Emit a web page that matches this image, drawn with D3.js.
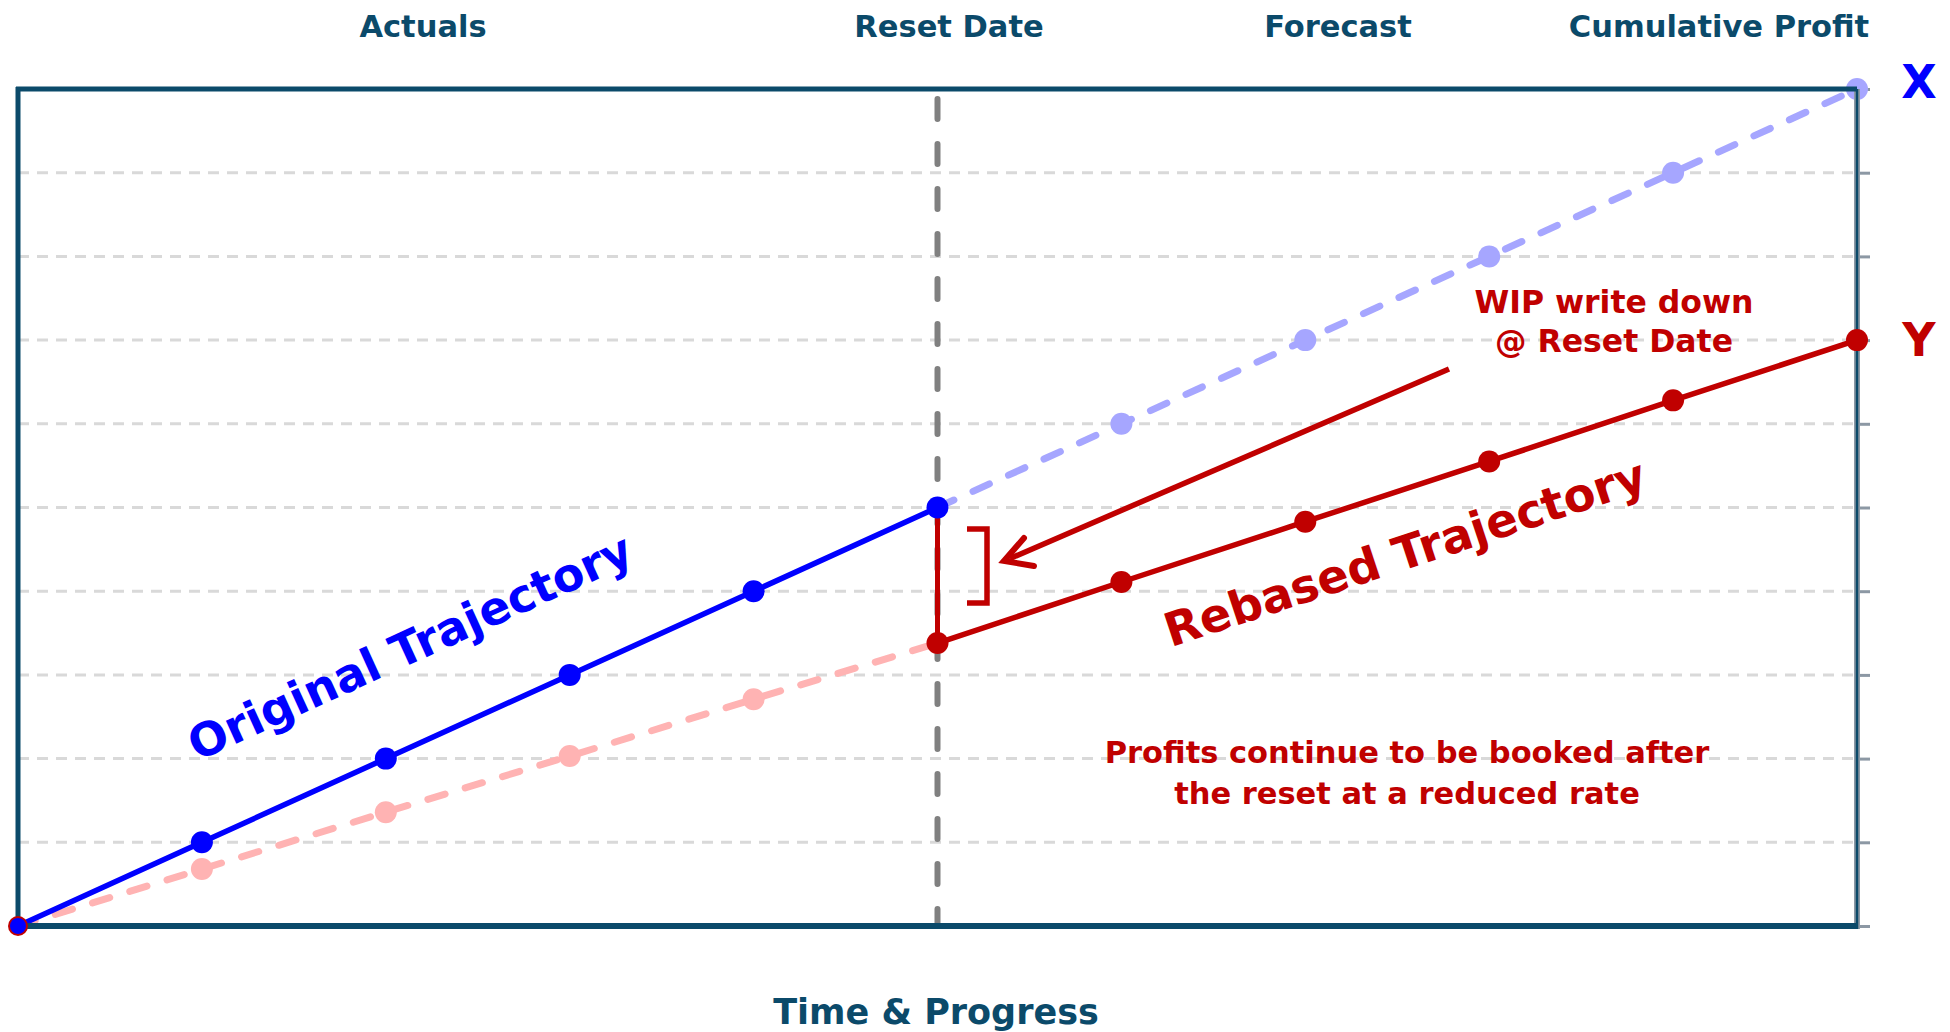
<!DOCTYPE html>
<html>
<head>
<meta charset="utf-8">
<script src="https://cdn.jsdelivr.net/npm/d3@7/dist/d3.min.js"></script>
<style>
  html, body { margin: 0; padding: 0; background: #fff; }
  svg { display: block; }
  text { font-family: "DejaVu Sans", Verdana, sans-serif; font-weight: bold; }
</style>
</head>
<body>
<svg id="chart" width="1950" height="1032"></svg>
<script>
// ---- data ----
const periods = [0, 1, 2, 3, 4, 5, 6, 7, 8, 9, 10];
const resetPeriod = 5;
const originalActual = [0, 1, 2, 3, 4, 5];           // periods 0..5
const originalForecast = [5, 6, 7, 8, 9, 10];        // periods 5..10
const rebasedActual = [0, 0.68, 1.36, 2.03, 2.71, 3.38]; // periods 0..5
const rebasedForecast = [3.38, 4.11, 4.83, 5.55, 6.28, 7.0]; // periods 5..10
const gridValues = [0, 1, 2, 3, 4, 5, 6, 7, 8, 9, 10];
const headerLabels = ["Actuals", "Reset Date", "Forecast", "Cumulative Profit"];
const endLabels = ["X", "Y"];
const wipLines = ["WIP write down", "@ Reset Date"];
const profitLines = ["Profits continue to be booked after", "the reset at a reduced rate"];
const axisTitle = "Time & Progress";
const trajectoryLabels = ["Original Trajectory", "Rebased Trajectory"];

// ---- layout ----
const svg = d3.select("#chart");
const L = 18, R = 1857, T = 89, B = 926;
const x = d3.scaleLinear().domain([0, 10]).range([L, R]);
const y = d3.scaleLinear().domain([0, 10]).range([B, T]);

const navy = "#0b4a6a", blue = "#0000ff", red = "#c00000";
const lightBlue = "#a6a6ff", pink = "#ffb3b3";
const PR = 11;

// gridlines
svg.append("g").selectAll("line").data(gridValues.slice(1, 10)).join("line")
  .attr("x1", L).attr("x2", R)
  .attr("y1", d => y(d)).attr("y2", d => y(d))
  .attr("stroke", "#d9d9d9").attr("stroke-width", 3).attr("stroke-dasharray", "11,8");

// right axis ticks
const rAxis = svg.append("g").attr("transform", `translate(${R},0)`)
  .call(d3.axisRight(y).tickValues(gridValues).tickSize(13).tickFormat(""));
rAxis.select(".domain").remove();
rAxis.selectAll(".tick line").attr("stroke", "#8c98a4").attr("stroke-width", 3);

// reset date vertical dashed line
svg.append("line")
  .attr("x1", x(resetPeriod)).attr("x2", x(resetPeriod))
  .attr("y1", T + 10).attr("y2", B)
  .attr("stroke", "#808080").attr("stroke-width", 6)
  .attr("stroke-linecap", "round").attr("stroke-dasharray", "20,25");

const line = d3.line().x(d => x(d[0])).y(d => y(d[1]));
const seg = (vals, start) => vals.map((v, i) => [periods[start + i], v]);

// projections (dashed)
svg.append("path").datum(seg(originalForecast, resetPeriod)).attr("d", line)
  .attr("fill", "none").attr("stroke", lightBlue).attr("stroke-width", 7)
  .attr("stroke-dasharray", "18,21").attr("stroke-linecap", "round");
svg.append("path").datum(seg(rebasedActual, 0)).attr("d", line)
  .attr("fill", "none").attr("stroke", pink).attr("stroke-width", 7)
  .attr("stroke-dasharray", "18,21").attr("stroke-linecap", "round");

// projection points
svg.append("g").selectAll("circle").data(seg(originalForecast, resetPeriod).slice(1)).join("circle")
  .attr("cx", d => x(d[0])).attr("cy", d => y(d[1])).attr("r", PR).attr("fill", lightBlue);
svg.append("g").selectAll("circle").data(seg(rebasedActual, 0).slice(1, 5)).join("circle")
  .attr("cx", d => x(d[0])).attr("cy", d => y(d[1])).attr("r", PR).attr("fill", pink);

// write-down vertical
svg.append("line")
  .attr("x1", x(resetPeriod)).attr("x2", x(resetPeriod))
  .attr("y1", y(originalActual[resetPeriod])).attr("y2", y(rebasedForecast[0]))
  .attr("stroke", red).attr("stroke-width", 5);

// solid lines
svg.append("path").datum(seg(originalActual, 0)).attr("d", line)
  .attr("fill", "none").attr("stroke", blue).attr("stroke-width", 5.5);
svg.append("path").datum(seg(rebasedForecast, resetPeriod)).attr("d", line)
  .attr("fill", "none").attr("stroke", red).attr("stroke-width", 5.5);

// borders
svg.append("line").attr("x1", R).attr("x2", R).attr("y1", T).attr("y2", B + 3)
  .attr("stroke", "#8c98a4").attr("stroke-width", 6);
svg.append("line").attr("x1", R).attr("x2", R).attr("y1", T).attr("y2", B + 3)
  .attr("stroke", navy).attr("stroke-width", 2.5);
svg.append("line").attr("x1", L - 2).attr("x2", R).attr("y1", T).attr("y2", T)
  .attr("stroke", navy).attr("stroke-width", 5);
svg.append("line").attr("x1", L).attr("x2", L).attr("y1", T - 2).attr("y2", B)
  .attr("stroke", navy).attr("stroke-width", 5);
svg.append("line").attr("x1", L).attr("x2", R).attr("y1", B).attr("y2", B)
  .attr("stroke", navy).attr("stroke-width", 6);

// main points
svg.append("g").selectAll("circle").data(seg(rebasedForecast, resetPeriod)).join("circle")
  .attr("cx", d => x(d[0])).attr("cy", d => y(d[1])).attr("r", PR).attr("fill", red);
svg.append("circle").attr("cx", x(0)).attr("cy", y(0)).attr("r", 10).attr("fill", red);
svg.append("g").selectAll("circle").data(seg(originalActual, 0)).join("circle")
  .attr("cx", d => x(d[0])).attr("cy", d => y(d[1]))
  .attr("r", (d, i) => i === 0 ? 8 : PR).attr("fill", blue);

// bracket
svg.append("path").attr("d", "M967,529 H987 V603 H967")
  .attr("fill", "none").attr("stroke", red).attr("stroke-width", 5.5);

// arrow
const a0 = [1449, 369], a1 = [1004, 561];
svg.append("line").attr("x1", a0[0]).attr("y1", a0[1]).attr("x2", a1[0] + 6).attr("y2", a1[1] - 2.5)
  .attr("stroke", red).attr("stroke-width", 5.5);
svg.append("path").attr("d", `M1024,538 L${a1[0]},${a1[1]} L1034,566`)
  .attr("fill", "none").attr("stroke", red).attr("stroke-width", 6)
  .attr("stroke-linejoin", "miter").attr("stroke-linecap", "round");

// header labels
const headerX = [423, 949, 1338, 1719];
svg.append("g").selectAll("text").data(headerLabels).join("text")
  .attr("x", (d, i) => headerX[i]).attr("y", 37)
  .attr("text-anchor", "middle").attr("font-size", 30.5).attr("fill", navy)
  .text(d => d);

// X / Y end labels
svg.append("text").attr("x", 1919).attr("y", 98).attr("text-anchor", "middle")
  .attr("font-size", 46).attr("fill", blue).text(endLabels[0]);
svg.append("text").attr("x", 1919).attr("y", 356).attr("text-anchor", "middle")
  .attr("font-size", 46).attr("fill", red).text(endLabels[1]);

// WIP text
svg.append("g").selectAll("text").data(wipLines).join("text")
  .attr("x", 1614).attr("y", (d, i) => 313 + i * 39)
  .attr("text-anchor", "middle").attr("font-size", 31.5).attr("fill", red).text(d => d);

// Profits text
svg.append("g").selectAll("text").data(profitLines).join("text")
  .attr("x", 1407).attr("y", (d, i) => 763 + i * 41)
  .attr("text-anchor", "middle").attr("font-size", 30.5).attr("fill", red).text(d => d);

// trajectory labels
svg.append("text").attr("transform", "translate(410,647) rotate(-24.5)")
  .attr("text-anchor", "middle").attr("dominant-baseline", "central")
  .attr("font-size", 46).attr("fill", blue).text(trajectoryLabels[0]);
svg.append("text").attr("transform", "translate(1405,553) rotate(-18.3)")
  .attr("text-anchor", "middle").attr("dominant-baseline", "central")
  .attr("font-size", 46.5).attr("fill", red).text(trajectoryLabels[1]);

// axis title
svg.append("text").attr("x", 936).attr("y", 1024).attr("text-anchor", "middle")
  .attr("font-size", 35).attr("fill", navy).text(axisTitle);
</script>
</body>
</html>
